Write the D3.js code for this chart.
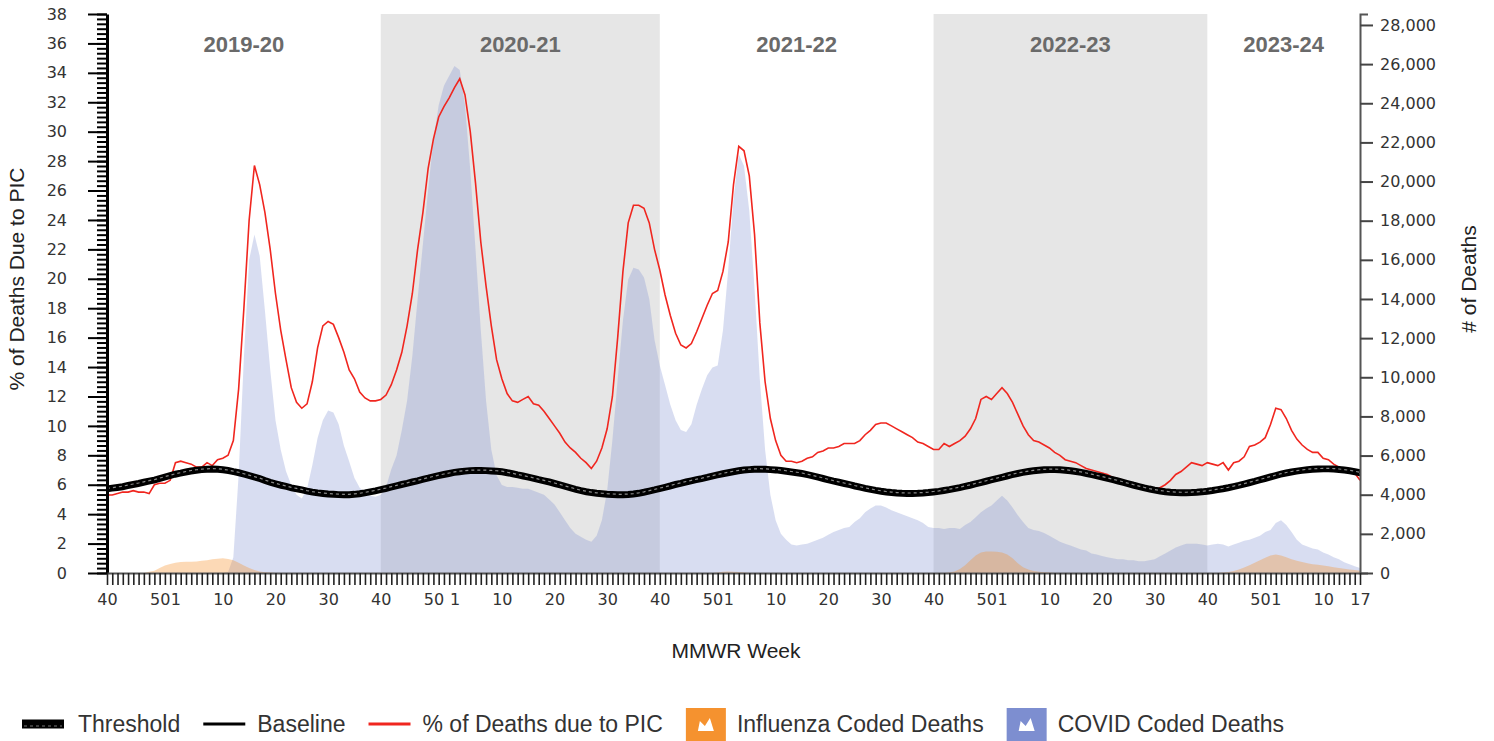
<!DOCTYPE html>
<html>
<head>
<meta charset="utf-8">
<script src="https://cdn.jsdelivr.net/npm/d3@7"></script>
<style>
  body { margin: 0; background: #fff; }
  text { font-family: "Liberation Sans", Arial, sans-serif; }
  .tick text { font-family: "DejaVu Sans", Verdana, sans-serif; font-size: 16px; fill: #333; }
</style>
</head>
<body>
<svg id="chart" width="1494" height="741"></svg>
<script>
// MMWR weeks from 2019 wk40 to 2024 wk17
const weeksInYear = [52, 53, 52, 52, 52, 52]; // 2019..2024
const firstWeek = 40;
const labeledWeeks = [40, 50, 1, 10, 20, 30];
const seasons = ["2019-20", "2020-21", "2021-22", "2022-23", "2023-24"];

// % of deaths due to PIC (weekly)
const pic = [
  5.3, 5.3, 5.4, 5.5, 5.5, 5.6, 5.5, 5.5, 5.4, 6.0,
  6.1, 6.1, 6.3, 7.5, 7.6, 7.5, 7.4, 7.2, 7.2, 7.5,
  7.3, 7.7, 7.8, 8.0, 9.0, 12.5, 18.0, 24.0, 27.7, 26.4,
  24.5, 22.0, 19.0, 16.5, 14.5, 12.6, 11.6, 11.2, 11.5, 13.0,
  15.3, 16.8, 17.1, 16.9, 16.0, 15.0, 13.8, 13.2, 12.3, 11.9,
  11.7, 11.7, 11.8, 12.1, 12.8, 13.8, 15.0, 16.8, 19.0, 22.0,
  24.5, 27.5, 29.5, 31.0, 31.7, 32.3, 33.0, 33.6, 32.5, 30.0,
  26.5, 22.5, 19.5, 16.8, 14.5, 13.2, 12.2, 11.7, 11.6, 11.8,
  12.0, 11.5, 11.4, 11.0, 10.5, 10.0, 9.5, 8.9, 8.5, 8.2,
  7.8, 7.5, 7.1, 7.6, 8.5, 9.8, 12.0, 16.0, 20.5, 23.8,
  25.0, 25.0, 24.8, 23.8, 22.0, 20.6, 18.9, 17.5, 16.3, 15.5,
  15.3, 15.6, 16.4, 17.3, 18.2, 19.0, 19.2, 20.5, 22.5, 26.4,
  29.0, 28.7, 27.0, 23.0, 17.0, 13.0, 10.5, 9.0, 8.0, 7.6,
  7.6, 7.5, 7.6, 7.8, 7.9, 8.2, 8.3, 8.5, 8.5, 8.6,
  8.8, 8.8, 8.8, 9.0, 9.4, 9.7, 10.1, 10.2, 10.2, 10.0,
  9.8, 9.6, 9.4, 9.2, 8.9, 8.8, 8.6, 8.4, 8.4, 8.8,
  8.6, 8.8, 9.0, 9.3, 9.8, 10.5, 11.8, 12.0, 11.8, 12.2,
  12.6, 12.2, 11.6, 10.8, 10.0, 9.4, 9.0, 8.9, 8.7, 8.5,
  8.2, 8.0, 7.7, 7.6, 7.5, 7.3, 7.1, 7.0, 6.9, 6.8,
  6.7, 6.5, 6.4, 6.3, 6.1, 6.0, 5.9, 5.8, 5.6, 5.6,
  5.8, 6.0, 6.3, 6.7, 6.9, 7.2, 7.5, 7.4, 7.3, 7.5,
  7.4, 7.3, 7.5, 7.0, 7.5, 7.6, 7.9, 8.6, 8.7, 8.9,
  9.2, 10.1, 11.2, 11.1, 10.5, 9.7, 9.1, 8.7, 8.4, 8.2,
  8.2, 7.8, 7.7, 7.4, 7.2, 7.0, 6.9, 6.8, 6.3
];

const baseline = [
  5.55, 5.6, 5.65, 5.7, 5.78, 5.85, 5.92, 6.0, 6.08, 6.15,
  6.25, 6.35, 6.45, 6.55, 6.62, 6.7, 6.77, 6.82, 6.86, 6.88,
  6.9, 6.88, 6.85, 6.8, 6.72, 6.65, 6.55, 6.45, 6.35, 6.25,
  6.12, 6.0, 5.9, 5.8, 5.72, 5.62, 5.55, 5.48, 5.4, 5.33,
  5.28, 5.24, 5.2, 5.18, 5.16, 5.15, 5.15, 5.18, 5.22, 5.28,
  5.35, 5.42, 5.5, 5.58, 5.67, 5.76, 5.85, 5.93, 6.02, 6.1,
  6.2, 6.28, 6.37, 6.45, 6.53, 6.6, 6.67, 6.72, 6.76, 6.79,
  6.8, 6.8, 6.79, 6.77, 6.75, 6.72, 6.65, 6.58, 6.5, 6.43,
  6.35, 6.27, 6.18, 6.1, 6.02, 5.92, 5.82, 5.72, 5.62, 5.52,
  5.43, 5.36, 5.3, 5.25, 5.22, 5.19, 5.17, 5.15, 5.15, 5.17,
  5.2, 5.25, 5.32, 5.4, 5.48, 5.57, 5.66, 5.75, 5.85, 5.93,
  6.02, 6.1, 6.18, 6.25, 6.33, 6.42, 6.5, 6.58, 6.65, 6.72,
  6.78, 6.83, 6.86, 6.88, 6.89, 6.88, 6.86, 6.84, 6.8, 6.75,
  6.7, 6.65, 6.6, 6.52, 6.44, 6.35, 6.26, 6.17, 6.08, 6.0,
  5.92, 5.84, 5.75, 5.67, 5.59, 5.52, 5.45, 5.39, 5.34, 5.3,
  5.27, 5.25, 5.24, 5.24, 5.25, 5.27, 5.3, 5.34, 5.38, 5.44,
  5.5, 5.57, 5.64, 5.72, 5.8, 5.89, 5.98, 6.07, 6.16, 6.25,
  6.34, 6.43, 6.52, 6.6, 6.67, 6.73, 6.78, 6.82, 6.85, 6.86,
  6.86, 6.85, 6.82, 6.78, 6.73, 6.67, 6.6, 6.52, 6.44, 6.36,
  6.27, 6.18, 6.09, 6.0, 5.9, 5.8, 5.71, 5.62, 5.54, 5.47,
  5.41, 5.36, 5.32, 5.3, 5.29, 5.29, 5.3, 5.32, 5.35, 5.39,
  5.44, 5.5, 5.56, 5.63, 5.71, 5.79, 5.88, 5.97, 6.06, 6.16,
  6.26, 6.36, 6.46, 6.55, 6.63, 6.7, 6.76, 6.81, 6.85, 6.88,
  6.9, 6.91, 6.91, 6.9, 6.87, 6.83, 6.78, 6.72, 6.65
];

const threshold = [
  5.75, 5.8, 5.85, 5.9, 5.98, 6.05, 6.12, 6.2, 6.28, 6.35,
  6.45, 6.55, 6.65, 6.75, 6.82, 6.9, 6.97, 7.02, 7.06, 7.08,
  7.1, 7.08, 7.05, 7.0, 6.92, 6.85, 6.75, 6.65, 6.55, 6.45,
  6.32, 6.2, 6.1, 6.0, 5.92, 5.82, 5.75, 5.68, 5.6, 5.53,
  5.48, 5.44, 5.4, 5.38, 5.36, 5.35, 5.35, 5.38, 5.42, 5.48,
  5.55, 5.62, 5.7, 5.78, 5.87, 5.96, 6.05, 6.13, 6.22, 6.3,
  6.4, 6.48, 6.57, 6.65, 6.73, 6.8, 6.87, 6.92, 6.96, 6.99,
  7.0, 7.0, 6.99, 6.97, 6.95, 6.92, 6.85, 6.78, 6.7, 6.63,
  6.55, 6.47, 6.38, 6.3, 6.22, 6.12, 6.02, 5.92, 5.82, 5.72,
  5.63, 5.56, 5.5, 5.45, 5.42, 5.39, 5.37, 5.35, 5.35, 5.37,
  5.4, 5.45, 5.52, 5.6, 5.68, 5.77, 5.86, 5.95, 6.05, 6.13,
  6.22, 6.3, 6.38, 6.45, 6.53, 6.62, 6.7, 6.78, 6.85, 6.92,
  6.98, 7.03, 7.06, 7.08, 7.09, 7.08, 7.06, 7.04, 7.0, 6.95,
  6.9, 6.85, 6.8, 6.72, 6.64, 6.55, 6.46, 6.37, 6.28, 6.2,
  6.12, 6.04, 5.95, 5.87, 5.79, 5.72, 5.65, 5.59, 5.54, 5.5,
  5.47, 5.45, 5.44, 5.44, 5.45, 5.47, 5.5, 5.54, 5.58, 5.64,
  5.7, 5.77, 5.84, 5.92, 6.0, 6.09, 6.18, 6.27, 6.36, 6.45,
  6.54, 6.63, 6.72, 6.8, 6.87, 6.93, 6.98, 7.02, 7.05, 7.06,
  7.06, 7.05, 7.02, 6.98, 6.93, 6.87, 6.8, 6.72, 6.64, 6.56,
  6.47, 6.38, 6.29, 6.2, 6.1, 6.0, 5.91, 5.82, 5.74, 5.67,
  5.61, 5.56, 5.52, 5.5, 5.49, 5.49, 5.5, 5.52, 5.55, 5.59,
  5.64, 5.7, 5.76, 5.83, 5.91, 5.99, 6.08, 6.17, 6.26, 6.36,
  6.46, 6.56, 6.66, 6.75, 6.83, 6.9, 6.96, 7.01, 7.05, 7.08,
  7.1, 7.11, 7.11, 7.1, 7.07, 7.03, 6.98, 6.92, 6.85
];

// # of COVID coded deaths (weekly)
const covid = [
  0, 0, 0, 0, 0, 0, 0, 0, 0, 0,
  0, 0, 0, 0, 0, 0, 0, 0, 0, 0,
  0, 0, 0, 50, 800, 5000, 11000, 16000, 17300, 16200,
  13400, 10400, 7800, 6300, 5200, 4500, 4000, 3800, 4300, 5500,
  6900, 7800, 8300, 8200, 7600, 6500, 5700, 4850, 4350, 4100,
  3950, 3900, 4000, 4400, 5300, 6000, 7300, 8800, 11100, 14000,
  16800, 19600, 22100, 23900, 24900, 25400, 25900, 25700, 23900, 20600,
  16500, 12400, 8800, 6300, 5000, 4500, 4400, 4400, 4350, 4300,
  4300, 4200, 4100, 4000, 3750, 3500, 3100, 2700, 2300, 2000,
  1850, 1700, 1600, 1900, 2700, 4200, 6800, 9900, 12900, 15000,
  15600, 15500, 15100, 14000, 11900, 10600, 9600, 8600, 7800, 7300,
  7200, 7600, 8600, 9400, 10100, 10500, 10600, 12400, 15500, 19100,
  21400, 20800, 18500, 14500, 9900, 6300, 4000, 2700, 2000, 1700,
  1450, 1400, 1450, 1500, 1600, 1700, 1800, 1950, 2100, 2200,
  2300, 2350, 2600, 2800, 3100, 3300, 3450, 3450, 3350, 3200,
  3100, 3000, 2900, 2800, 2700, 2550, 2350, 2300, 2300, 2250,
  2300, 2300, 2250, 2450, 2600, 2850, 3100, 3300, 3450, 3700,
  3950, 3700, 3350, 2950, 2600, 2300, 2200, 2150, 2050, 1900,
  1750, 1600, 1500, 1400, 1300, 1200, 1150, 1000, 950, 870,
  800, 750, 700, 700, 650, 650, 600, 600, 650, 700,
  850, 1000, 1150, 1300, 1400, 1500, 1500, 1500, 1450, 1400,
  1450, 1500, 1450, 1350, 1450, 1550, 1650, 1700, 1800, 1900,
  2100, 2200, 2550, 2700, 2450, 2100, 1700, 1450, 1350, 1250,
  1200, 1050, 950, 800, 700, 550, 450, 350, 250
];

// # of influenza coded deaths (weekly)
const influenza = [
  0, 0, 0, 0, 0, 0, 0, 0, 60, 120,
  250, 380, 460, 520, 560, 570, 580, 590, 620, 650,
  700, 730, 750, 720, 650, 520, 380, 250, 150, 80,
  40, 20, 0, 0, 0, 0, 0, 0, 0, 0,
  0, 0, 0, 0, 0, 0, 0, 0, 0, 0,
  0, 0, 0, 0, 0, 0, 0, 0, 0, 0,
  0, 0, 0, 0, 0, 0, 0, 0, 0, 0,
  0, 0, 0, 0, 0, 0, 0, 0, 0, 0,
  0, 0, 0, 0, 0, 0, 0, 0, 0, 0,
  0, 0, 0, 0, 0, 0, 0, 0, 0, 0,
  0, 0, 0, 0, 0, 0, 0, 0, 0, 0,
  0, 0, 0, 0, 0, 0, 30, 60, 80, 70,
  50, 30, 0, 0, 0, 0, 0, 0, 0, 0,
  0, 0, 0, 0, 0, 0, 0, 0, 0, 0,
  0, 0, 0, 0, 0, 0, 0, 0, 0, 0,
  0, 0, 0, 0, 0, 0, 0, 0, 0, 0,
  30, 80, 200, 400, 650, 900, 1050, 1100, 1100, 1080,
  1050, 950, 750, 500, 300, 180, 100, 60, 40, 25,
  0, 0, 0, 0, 0, 0, 0, 0, 0, 0,
  0, 0, 0, 0, 0, 0, 0, 0, 0, 0,
  0, 0, 0, 0, 0, 0, 0, 0, 0, 0,
  0, 0, 20, 50, 100, 180, 280, 400, 520, 650,
  780, 900, 950, 900, 800, 700, 620, 560, 500, 450,
  420, 380, 340, 300, 260, 220, 180, 150, 120
];

const colors = {
  pic: "#f0261f",
  flu: "#f5922f",
  covid: "#7d8ed0",
  shade: "#e6e6e6",
  season: "#6a6a6a"
};

// week number for every index
const weeks = [];
let yr = 0, wk = firstWeek;
while (weeks.length < pic.length) {
  weeks.push(wk);
  wk++;
  if (wk > weeksInYear[yr]) { wk = 1; yr++; }
}
const last = pic.length - 1;

const svg = d3.select("#chart");
const x = d3.scaleLinear().domain([0, last]).range([107, 1360]);
const yL = d3.scaleLinear().domain([0, 38]).range([573, 14]);
const yR = d3.scaleLinear().domain([0, 28560]).range([573, 14]);

// season blocks
const starts = weeks.map((w, i) => (w === firstWeek ? i : -1)).filter(i => i >= 0);
const blocks = starts.map((s, k) => ({name: seasons[k], from: s, to: k < starts.length - 1 ? starts[k + 1] : last}));

svg.append("g")
  .selectAll("rect")
  .data(blocks.filter((d, k) => k % 2 === 1))
  .join("rect")
  .attr("x", d => x(d.from))
  .attr("y", yL(38))
  .attr("width", d => x(d.to) - x(d.from))
  .attr("height", yL(0) - yL(38))
  .attr("fill", colors.shade);

// areas
const areaR = d3.area().x((d, i) => x(i)).y0(yR(0)).y1(d => yR(d));
svg.append("path").datum(covid).attr("d", areaR).attr("fill", colors.covid).attr("fill-opacity", 0.3);
svg.append("path").datum(influenza).attr("d", areaR).attr("fill", colors.flu).attr("fill-opacity", 0.35);

// lines
const lineL = d3.line().x((d, i) => x(i)).y(d => yL(d));
svg.append("path").datum(pic).attr("d", lineL).attr("fill", "none").attr("stroke", colors.pic).attr("stroke-width", 1.6);

svg.append("path").datum(threshold).attr("d", lineL).attr("fill", "none").attr("stroke", "#000").attr("stroke-width", 6);
svg.append("path").datum(threshold).attr("d", lineL).attr("fill", "none").attr("stroke", "#8a8a8a").attr("stroke-width", 1.2).attr("stroke-dasharray", "3,3");
svg.append("path").datum(baseline).attr("d", lineL).attr("fill", "none").attr("stroke", "#000").attr("stroke-width", 2);

// season labels
svg.append("g")
  .selectAll("text")
  .data(blocks)
  .join("text")
  .attr("x", d => (x(d.from) + x(d.to)) / 2)
  .attr("y", 52)
  .attr("text-anchor", "middle")
  .attr("font-size", 22)
  .attr("font-weight", "bold")
  .attr("fill", colors.season)
  .text(d => d.name);

// left axis: minor comb + major ticks
const minor = svg.append("g")
  .attr("transform", "translate(107,0)")
  .call(d3.axisLeft(yL).tickValues(d3.range(0, 38.01, 1 / 3)).tickSize(10).tickFormat(""));
minor.selectAll("line").attr("stroke", "#000").attr("stroke-width", 2);
minor.select(".domain").remove();

const left = svg.append("g")
  .attr("transform", "translate(107,0)")
  .call(d3.axisLeft(yL).tickValues(d3.range(0, 39, 2)).tickSize(19).tickSizeOuter(0).tickPadding(21));
left.selectAll("line").attr("stroke", "#000").attr("stroke-width", 2);
left.select(".domain").attr("stroke", "#000").attr("stroke-width", 3);

// right axis
const right = svg.append("g")
  .attr("transform", "translate(1360,0)")
  .call(d3.axisRight(yR).tickValues(d3.range(0, 28001, 2000)).tickSize(13).tickSizeOuter(8).tickPadding(7).tickFormat(d3.format(",")));
right.selectAll("line").attr("stroke", "#444").attr("stroke-width", 2);
right.select(".domain").attr("stroke", "#555").attr("stroke-width", 2);

// bottom axis, one tick per week
const bottom = svg.append("g")
  .attr("transform", "translate(0,573)")
  .call(d3.axisBottom(x)
    .tickValues(d3.range(0, last + 1))
    .tickSize(12)
    .tickSizeOuter(0)
    .tickPadding(9)
    .tickFormat(i => (labeledWeeks.includes(weeks[i]) || i === last ? weeks[i] : "")));
bottom.selectAll("line").attr("stroke", "#222").attr("stroke-width", 1.6);
bottom.select(".domain").attr("stroke", "#555").attr("stroke-width", 2);

// axis titles
svg.append("text")
  .attr("transform", "translate(24,279) rotate(-90)")
  .attr("text-anchor", "middle")
  .attr("font-size", 21)
  .attr("fill", "#222")
  .text("% of Deaths Due to PIC");

svg.append("text")
  .attr("transform", "translate(1476,279) rotate(-90)")
  .attr("text-anchor", "middle")
  .attr("font-size", 21)
  .attr("fill", "#222")
  .text("# of Deaths");

svg.append("text")
  .attr("x", 736)
  .attr("y", 658)
  .attr("text-anchor", "middle")
  .attr("font-size", 21)
  .attr("fill", "#222")
  .text("MMWR Week");

// legend
const legendItems = [
  {label: "Threshold", type: "threshold"},
  {label: "Baseline", type: "line", color: "#000"},
  {label: "% of Deaths due to PIC", type: "line", color: colors.pic},
  {label: "Influenza Coded Deaths", type: "box", color: colors.flu},
  {label: "COVID Coded Deaths", type: "box", color: colors.covid}
];

const legend = svg.append("g").attr("font-size", 23).attr("fill", "#333");
let lx = 22;
legendItems.forEach(item => {
  const g = legend.append("g");
  if (item.type === "threshold") {
    g.append("line").attr("x1", lx).attr("x2", lx + 42).attr("y1", 724).attr("y2", 724).attr("stroke", "#000").attr("stroke-width", 9);
    g.append("line").attr("x1", lx + 2).attr("x2", lx + 40).attr("y1", 726).attr("y2", 726).attr("stroke", "#777").attr("stroke-width", 1).attr("stroke-dasharray", "3,3");
    lx += 42 + 14;
  } else if (item.type === "line") {
    g.append("line").attr("x1", lx).attr("x2", lx + 42).attr("y1", 724).attr("y2", 724).attr("stroke", item.color).attr("stroke-width", 3);
    lx += 42 + 12;
  } else {
    g.append("rect").attr("x", lx).attr("y", 708).attr("width", 40).attr("height", 33).attr("fill", item.color);
    // small white area glyph
    g.append("path")
      .attr("d", `M${lx + 12},${731} L${lx + 14},${721} L${lx + 19},${726} L${lx + 24},${718} L${lx + 28},${731} Z`)
      .attr("fill", "#fff");
    lx += 40 + 11;
  }
  const t = g.append("text").attr("x", lx).attr("y", 732).text(item.label);
  lx += t.node().getComputedTextLength() + 23;
});
</script>
</body>
</html>
